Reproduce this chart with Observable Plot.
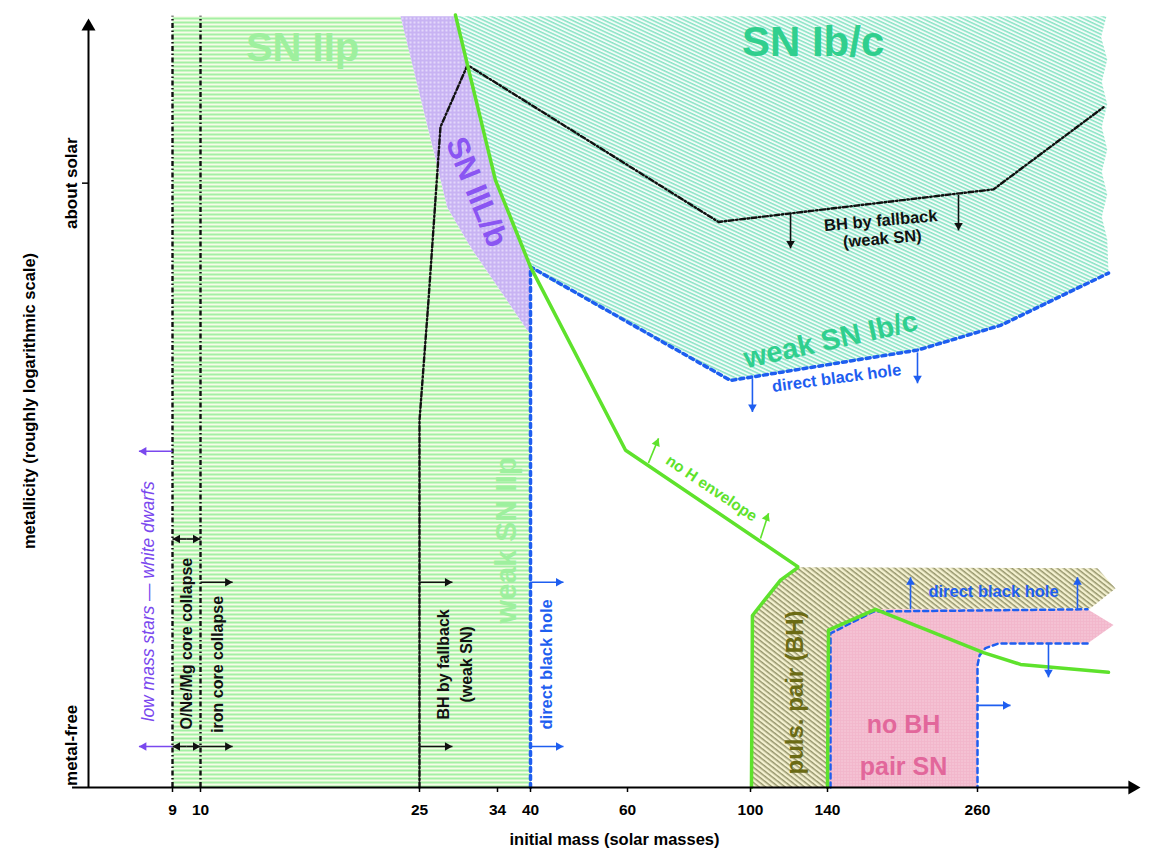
<!DOCTYPE html>
<html><head><meta charset="utf-8">
<script src="https://cdn.jsdelivr.net/npm/d3@7"></script>
<script src="https://cdn.jsdelivr.net/npm/@observablehq/plot@0.6"></script>
<style>
body{margin:0;background:#fff;}
#chart{width:1150px;height:850px;}
</style>
</head><body><div id="chart"></div>
<script>
// ---------- scale knots (initial mass, non-linear axis) ----------
const massKnots = [6, 9, 10, 25, 34, 40, 60, 100, 140, 260, 500];
const massKnotPx = [88, 172, 200, 419, 497, 530, 627, 750, 827, 977, 1140];
const massTicks = [9, 10, 25, 34, 40, 60, 100, 140, 260];
// metallicity: arbitrary roughly-logarithmic index, metal-free = 0, about solar = 10
const metalTicks = [0, 10];
const metalTickLabels = ["metal-free", "about solar"];
const Z_BOTTOM = -0.75, Z_TOP = 12.97, Z_AXIS_TOP = 12.93;
const AXIS_MASS_MIN = 5.43, AXIS_MASS_MAX = 500, YAXIS_MASS = 6, TICK_MASS = 5.786;

// ---------- regions: [initial mass, metallicity] ----------
const snIIpRegion = [[9,Z_BOTTOM],[9,Z_TOP],[23.7,Z_TOP],[26.6,10.59],[28.2,9.57],[30.9,8.86],[39.45,7.38],[40,7.33],[40,Z_BOTTOM]];
const snIILbRegion = [[23.7,Z_TOP],[26.6,10.59],[28.2,9.57],[30.9,8.86],[39.45,7.38],[40,7.33],[40,8.51],[33.77,10.05],[30.54,12.10],[29.15,Z_TOP]];
const snIbcRegion = [[29.15,Z_TOP],[450,Z_TOP],[442,12.6],[451,12.2],[443,11.8],[451,11.4],[443,11.0],[451,10.6],[443,10.2],[451,9.8],[443,9.4],[451,9.0],[452.9,8.40],[293.9,7.47],[212,7.03],[93.5,6.49],[40.4,8.45],[40,8.51],[33.77,10.05],[30.54,12.10]];
const pulsPairRegion = [[100.5,Z_BOTTOM],[101,2.31],[115.6,2.94],[124.9,3.17],[436.7,3.15],[463.2,2.79],[426.4,2.44],[178.4,2.42],[140.8,2.05],[140,Z_BOTTOM]];
const pairSNRegion = [[140.8,Z_BOTTOM],[140.8,2.05],[178.4,2.42],[422,2.42],[460.3,2.14],[422,1.81],[290.9,1.81],[271.8,1.73],[263,1.60],[260,1.42],[260,Z_BOTTOM]];

// ---------- boundaries ----------
const noHEnvelopeLine = [[29.15,12.99],[30.54,12.10],[33.77,10.05],[40,8.51],[59.6,5.25],[124.9,3.17],[115.6,2.94],[101,2.31],[100.5,Z_BOTTOM]];
const pairLine = [[140,Z_BOTTOM],[140.8,2.05],[178.4,2.42],[268.8,1.65],[323.3,1.44],[452.9,1.30]];
const fallbackLine = [[25,Z_BOTTOM],[25,5.78],[26.04,7.92],[27.42,11.0],[30.54,12.10],[89.6,9.31],[283.6,9.89],[445.5,11.35]];
const collapseMasses = [9, 10];
const directBHLine = [[40,Z_BOTTOM],[40,8.51],[93.5,6.49],[212,7.03],[293.9,7.47],[452.9,8.40]];
const pairOutlineUpper = [[142.4,Z_BOTTOM],[142.4,1.99],[176.8,2.38],[422,2.42]];
const pairOutlineLower = [[422,1.81],[290.9,1.81],[271.8,1.73],[263,1.60],[260,1.42],[260,Z_BOTTOM]];

// ---------- arrows ----------
const arrowData = [
  {g:"fallback", m1:120.8, z1:9.47, m2:120.8, z2:8.84, dir:"down"},
  {g:"fallback", m1:244.8, z1:9.79, m2:244.8, z2:9.16, dir:"down"},
  {g:"fallback", m1:10, z1:2.90, m2:12.2, z2:2.90, dir:"right"},
  {g:"fallback", m1:10, z1:-0.02, m2:12.2, z2:-0.02, dir:"right"},
  {g:"fallback", m1:25, z1:2.90, m2:28.8, z2:2.90, dir:"right"},
  {g:"fallback", m1:25, z1:-0.02, m2:28.8, z2:-0.02, dir:"right"},
  {g:"fallback", m1:9.5, z1:3.67, m2:9, z2:3.67, dir:"left"},
  {g:"fallback", m1:9.5, z1:3.67, m2:10, z2:3.67, dir:"right"},
  {g:"fallback", m1:9.5, z1:-0.02, m2:9, z2:-0.02, dir:"left"},
  {g:"fallback", m1:9.5, z1:-0.02, m2:10, z2:-0.02, dir:"right"},
  {g:"directBH", m1:40, z1:2.90, m2:46.8, z2:2.90, dir:"right"},
  {g:"directBH", m1:40, z1:-0.02, m2:46.8, z2:-0.02, dir:"right"},
  {g:"directBH", m1:101, z1:6.53, m2:101, z2:5.93, dir:"down"},
  {g:"directBH", m1:212, z1:6.99, m2:212, z2:6.44, dir:"down"},
  {g:"directBH", m1:206.4, z1:2.42, m2:206.4, z2:2.99, dir:"up"},
  {g:"directBH", m1:407.2, z1:2.42, m2:407.2, z2:2.99, dir:"up"},
  {g:"directBH", m1:364.5, z1:1.81, m2:364.5, z2:1.21, dir:"down"},
  {g:"directBH", m1:260, z1:0.71, m2:308.6, z2:0.71, dir:"right"},
  {g:"lowMass", m1:9, z1:5.23, m2:7.8, z2:5.23, dir:"left"},
  {g:"lowMass", m1:9, z1:-0.02, m2:7.8, z2:-0.02, dir:"left"},
  {g:"noH", m1:66.8, z1:5.02, m2:70.1, z2:5.46, dir:"tilt"},
  {g:"noH", m1:105.2, z1:3.68, m2:109.4, z2:4.13, dir:"tilt"}
];

// ---------- labels ----------
const regionLabelText = ["SN IIp","SN Ib/c","SN IIL/b","weak SN IIp","weak SN Ib/c","puls. pair (BH)","no BH","pair SN","no H envelope"];
const regionLabelMass = [16.99,132.5,31.58,35.64,142.6,123.4,200.8,200.8,87.3];
const regionLabelZ = [12.40,12.50,9.84,3.65,7.21,0.94,0.36,-0.39,4.57];
const noteText = ["direct black hole","direct black hole","direct black hole","BH by fallback\n(weak SN)","BH by fallback\n(weak SN)","low mass stars — white dwarfs","O/Ne/Mg core collapse","iron core collapse"];
const noteMass = [43.3,147.2,283.6,183.2,28.92,8.14,9.5,11.16];
const noteZ = [1.44,6.53,2.74,9.18,1.44,2.56,1.81,1.44];

// ---------- styles ----------
const BLUE = "#1e5ef0", GREEN = "#5ee22c", BLACK = "#111";
const DASHDOT = "5,2.5,1.5,2.5";
const arrowColor = {fallback: BLACK, directBH: BLUE, lowMass: "#7a48ee", noH: GREEN};
const dirRotate = {up: 0, right: 90, down: 180, left: 270, tilt: 22};
const dirOffset = {up: [0, 5], right: [-5, 0], down: [0, -5], left: [5, 0], tilt: [-1.9, 4.6]};
const regionStyles = [
  {fill: "#9ef09e", fontSize: 40, rotate: 0},
  {fill: "#30cf8e", fontSize: 42, rotate: 0},
  {fill: "#8a55f2", fontSize: 31, rotate: 67.7},
  {fill: "#9ef09e", fontSize: 30, rotate: -90},
  {fill: "#30cf8e", fontSize: 29, rotate: -12.5},
  {fill: "#6b6b14", fontSize: 24, rotate: -90},
  {fill: "#e2679b", fontSize: 25, rotate: 0},
  {fill: "#e2679b", fontSize: 25, rotate: 0},
  {fill: GREEN, fontSize: 15.5, rotate: 33.8}
];
const noteStyles = [
  {fill: BLUE, fontSize: 16.5, rotate: -90},
  {fill: BLUE, fontSize: 16.5, rotate: -7.5},
  {fill: BLUE, fontSize: 16.5, rotate: 0},
  {fill: BLACK, fontSize: 16.5, rotate: -5, lineHeight: 1.1},
  {fill: BLACK, fontSize: 16, rotate: -90, lineHeight: 1.45},
  {fill: "#7a48ee", fontSize: 17.5, rotate: -90, fontStyle: "italic", fontWeight: "normal"},
  {fill: BLACK, fontSize: 16, rotate: -90},
  {fill: BLACK, fontSize: 16, rotate: -90}
];

const P = (data, opts) => Plot.line(data, {x: d => d[0], y: d => d[1], ...opts});

const marks = [
  // regions
  P(snIIpRegion, {fill: "url(#pIIp)", stroke: "none"}),
  P(snIILbRegion, {fill: "url(#pIILb)", stroke: "none"}),
  P(snIbcRegion, {fill: "url(#pIbc)", stroke: "none"}),
  P(pulsPairRegion, {fill: "url(#pPuls)", stroke: "none"}),
  P(pairSNRegion, {fill: "url(#pPair)", stroke: "none"}),
  // boundaries
  Plot.ruleX(collapseMasses, {y1: Z_BOTTOM, y2: Z_TOP, stroke: BLACK, strokeWidth: 2.4, strokeDasharray: DASHDOT}),
  P(fallbackLine, {stroke: BLACK, strokeWidth: 2.4, strokeDasharray: DASHDOT}),
  P(directBHLine, {stroke: BLUE, strokeWidth: 3.5, strokeDasharray: "4,4"}),
  P(pairOutlineUpper, {stroke: BLUE, strokeWidth: 2.5, strokeDasharray: "5,4"}),
  P(pairOutlineLower, {stroke: BLUE, strokeWidth: 2.5, strokeDasharray: "5,4"}),
  P(noHEnvelopeLine, {stroke: GREEN, strokeWidth: 3.5, strokeLinejoin: "miter"}),
  P(pairLine, {stroke: GREEN, strokeWidth: 3.5}),
  // arrows
  Plot.link(arrowData, {x1: "m1", y1: "z1", x2: "m2", y2: "z2", stroke: d => arrowColor[d.g], strokeWidth: 1.6})
];
for (const dir of Object.keys(dirRotate)) {
  marks.push(Plot.dot(arrowData.filter(d => d.dir === dir), {
    x: "m2", y: "z2", symbol: "triangle", r: 3.2, rotate: dirRotate[dir],
    fill: d => arrowColor[d.g], stroke: "none", dx: dirOffset[dir][0], dy: dirOffset[dir][1]
  }));
}
// labels
regionLabelText.forEach((t, i) => {
  marks.push(Plot.text([i], {x: j => regionLabelMass[j], y: j => regionLabelZ[j], text: j => regionLabelText[j],
    fontWeight: "bold", textAnchor: "middle", lineAnchor: "middle", ...regionStyles[i]}));
});
noteText.forEach((t, i) => {
  marks.push(Plot.text([i], {x: j => noteMass[j], y: j => noteZ[j], text: j => noteText[j],
    fontWeight: "bold", textAnchor: "middle", lineAnchor: "middle", ...noteStyles[i]}));
});
// axes
marks.push(
  Plot.ruleY([Z_BOTTOM], {x1: AXIS_MASS_MIN, x2: AXIS_MASS_MAX - 5, stroke: "black", strokeWidth: 2}),
  Plot.ruleX([YAXIS_MASS], {y1: Z_BOTTOM, y2: Z_AXIS_TOP - 0.2, stroke: "black", strokeWidth: 2}),
  Plot.dot([AXIS_MASS_MAX], {x: d => d, y: () => Z_BOTTOM, symbol: "triangle", r: 5.2, rotate: 90, dx: -8.1, fill: "black", stroke: "none"}),
  Plot.dot([Z_AXIS_TOP], {x: () => YAXIS_MASS, y: d => d, symbol: "triangle", r: 5.2, rotate: 0, dy: 8.1, fill: "black", stroke: "none"}),
  Plot.ruleY([10], {x1: TICK_MASS, x2: YAXIS_MASS, stroke: "black", strokeWidth: 1.5}),
  Plot.axisX(massTicks, {tickSize: 5, tickPadding: 11, fontSize: 15.5, fontWeight: "bold", tickFormat: d => String(d), label: null, stroke: "black", strokeWidth: 1.5, fill: "black"}),
  Plot.text(metalTicks, {x: () => YAXIS_MASS, y: d => d, text: (d, i) => metalTickLabels[i], rotate: -90, dx: -17, fontSize: 17, fontWeight: "bold", fill: "black", textAnchor: "middle"}),
  Plot.text(["metallicity (roughly logarithmic scale)"], {frameAnchor: "left", text: d => d, rotate: -90, dx: -59, textAnchor: "middle", fontSize: 16.5, fontWeight: "bold", fill: "black"}),
  Plot.text(["initial mass (solar masses)"], {frameAnchor: "bottom", text: d => d, dy: 52, textAnchor: "middle", lineAnchor: "middle", fontSize: 16.5, fontWeight: "bold", fill: "black"})
);

const chart = Plot.plot({
  width: 1150, height: 850,
  marginLeft: 88, marginRight: 10, marginTop: 14, marginBottom: 63,
  x: {type: "linear", domain: massKnots, range: massKnotPx},
  y: {domain: [-0.75, 13], axis: null},
  color: {type: "identity"},
  style: {fontFamily: "'Liberation Sans', Arial, Helvetica, sans-serif", background: "white", color: "black"},
  marks
});

const svg = chart.tagName.toLowerCase() === "svg" ? chart : chart.querySelector("svg");
const defs = document.createElementNS("http://www.w3.org/2000/svg", "defs");
defs.innerHTML = `
<pattern id="pIIp" width="8" height="4" patternUnits="userSpaceOnUse">
  <rect width="8" height="4" fill="#f6fce8"/>
  <rect y="1" width="8" height="2" fill="#a4f0a4"/>
</pattern>
<pattern id="pIbc" width="8" height="3.4" patternUnits="userSpaceOnUse" patternTransform="rotate(25)">
  <rect width="8" height="3.4" fill="#f2fcf8"/>
  <rect width="8" height="1.5" fill="#8ae4c6"/>
</pattern>
<pattern id="pIILb" width="4" height="4" patternUnits="userSpaceOnUse">
  <rect width="4" height="4" fill="#c8b3f3"/>
  <circle cx="2" cy="2" r="1" fill="#ece5fd"/>
</pattern>
<pattern id="pPuls" width="8" height="4" patternUnits="userSpaceOnUse" patternTransform="rotate(38)">
  <rect width="8" height="4" fill="#f4f1d0"/>
  <rect width="8" height="1.5" fill="#94946a"/>
</pattern>
<pattern id="pPair" width="3" height="3" patternUnits="userSpaceOnUse">
  <rect width="3" height="3" fill="#f2b6cb"/>
  <circle cx="1.5" cy="1.5" r="0.7" fill="#f9dbe6"/>
</pattern>`;
svg.insertBefore(defs, svg.firstChild);
document.getElementById("chart").appendChild(chart);
</script>
</body></html>
